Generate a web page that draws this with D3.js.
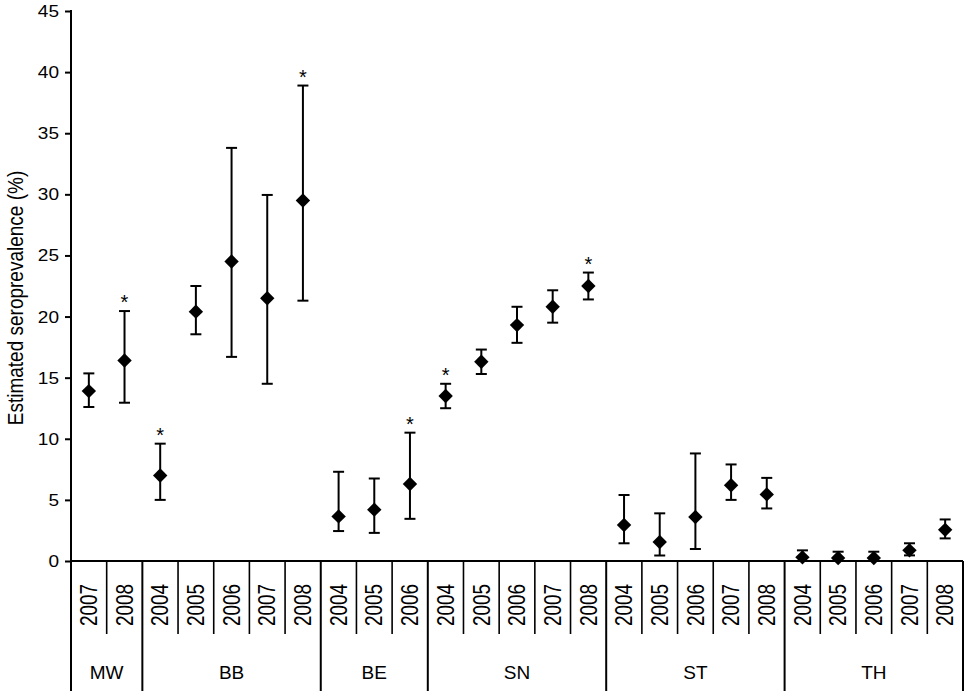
<!DOCTYPE html>
<html>
<head>
<meta charset="utf-8">
<script src="https://cdn.jsdelivr.net/npm/d3@7"></script>
<style>
  body { margin: 0; background: #fff; }
  svg { display: block; }
  text { font-family: "Liberation Sans", Arial, sans-serif; fill: #000; }
</style>
</head>
<body>
<svg id="chart" width="964" height="691"></svg>
<script>
// ---- Data ----
const groups = ["MW", "BB", "BE", "SN", "ST", "TH"];
const groupYears = [
  ["2007", "2008"],
  ["2004", "2005", "2006", "2007", "2008"],
  ["2004", "2005", "2006"],
  ["2004", "2005", "2006", "2007", "2008"],
  ["2004", "2005", "2006", "2007", "2008"],
  ["2004", "2005", "2006", "2007", "2008"]
];
const estimates = [13.9, 16.4, 7.0, 20.4, 24.5, 21.5, 29.5, 3.65, 4.2, 6.3, 13.5, 16.3, 19.3, 20.8, 22.5, 2.95, 1.55, 3.6, 6.2, 5.45, 0.3, 0.25, 0.25, 0.87, 2.55];
const lowerCI   = [12.6, 12.95, 5.0, 18.55, 16.7, 14.5, 21.3, 2.45, 2.3, 3.45, 12.5, 15.3, 17.85, 19.5, 21.4, 1.45, 0.45, 0.98, 5.0, 4.3, 0.0, 0.0, 0.0, 0.46, 1.85];
const upperCI   = [15.35, 20.45, 9.6, 22.5, 33.8, 29.95, 38.9, 7.3, 6.75, 10.5, 14.5, 17.3, 20.8, 22.15, 23.6, 5.4, 3.9, 8.8, 7.9, 6.8, 0.87, 0.76, 0.76, 1.45, 3.4];
const significant = [false, true, true, false, false, false, true, false, false, true, true, false, false, false, true, false, false, false, false, false, false, false, false, false, false];
const yTicks = [0, 5, 10, 15, 20, 25, 30, 35, 40, 45];
const yTitle = "Estimated seroprevalence (%)";

// ---- Build rows ----
const rows = [];
groups.forEach((g, gi) => groupYears[gi].forEach(yr => rows.push({ group: g, year: yr, key: g + "-" + yr })));
rows.forEach((r, i) => { r.est = estimates[i]; r.lo = lowerCI[i]; r.hi = upperCI[i]; r.sig = significant[i]; });

const svg = d3.select("#chart");
const plotLeft = 71, plotRight = 963, plotTop = 11, plotBase = 561, plotBottom = 691;

const x = d3.scaleBand().domain(rows.map(d => d.key)).range([plotLeft, plotRight]).padding(0);
const y = d3.scaleLinear().domain([0, 45]).range([plotBase, plotTop]);

// Y axis
const yAxis = d3.axisLeft(y).tickValues(yTicks).tickSize(6).tickSizeOuter(0).tickPadding(5);
const gy = svg.append("g").attr("transform", `translate(${plotLeft},0)`).call(yAxis);
gy.select(".domain").remove();
gy.selectAll(".tick line").attr("stroke", "#000").attr("stroke-width", 2);
gy.selectAll(".tick text").attr("font-size", 17).attr("font-family", "Liberation Sans, Arial, sans-serif")
  .attr("fill", "#000").attr("transform", "scale(1.12,1)").attr("x", -12 / 1.12);

// Axis lines
svg.append("line").attr("x1", plotLeft).attr("x2", plotLeft).attr("y1", plotTop - 1).attr("y2", plotBottom)
  .attr("stroke", "#000").attr("stroke-width", 2);
svg.append("line").attr("x1", plotLeft).attr("x2", plotRight).attr("y1", plotBase).attr("y2", plotBase)
  .attr("stroke", "#000").attr("stroke-width", 2);

// Separators
let idx = 0;
const groupBounds = [];
groupYears.forEach((ys) => {
  const start = idx;
  idx += ys.length;
  groupBounds.push([start, idx]);
});
const groupEnds = new Set(groupBounds.map(b => b[1]));
for (let i = 1; i <= rows.length; i++) {
  const xp = i === rows.length ? plotRight : x(rows[i].key);
  const isGroup = groupEnds.has(i);
  svg.append("line").attr("x1", xp).attr("x2", xp).attr("y1", plotBase)
    .attr("y2", isGroup ? plotBottom : 634)
    .attr("stroke", "#000").attr("stroke-width", isGroup ? 2 : 1.6);
}

// Year labels
svg.append("g").selectAll("text").data(rows).join("text")
  .attr("transform", d => `translate(${x(d.key) + x.bandwidth() / 2},605) rotate(-90) scale(1,1.22)`)
  .attr("text-anchor", "middle").attr("dominant-baseline", "central")
  .attr("font-size", 19).text(d => d.year);

// Group labels
svg.append("g").selectAll("text").data(groupBounds).join("text")
  .attr("x", (b) => {
    const x0 = x(rows[b[0]].key);
    const x1 = b[1] === rows.length ? plotRight : x(rows[b[1]].key);
    return (x0 + x1) / 2;
  })
  .attr("y", 672).attr("text-anchor", "middle").attr("dominant-baseline", "central")
  .attr("font-size", 19).text((b, i) => groups[i]);

// Y axis title
svg.append("text").attr("transform", `translate(15,298) rotate(-90) scale(1,1.15)`)
  .attr("text-anchor", "middle").attr("dominant-baseline", "central")
  .attr("font-size", 19).text(yTitle);

// Error bars
const cap = 5.5;
const eg = svg.append("g").attr("stroke", "#000").attr("stroke-width", 2);
rows.forEach(d => {
  const cx = x(d.key) + x.bandwidth() / 2;
  eg.append("line").attr("x1", cx).attr("x2", cx).attr("y1", y(d.lo)).attr("y2", y(d.hi));
  eg.append("line").attr("x1", cx - cap).attr("x2", cx + cap).attr("y1", y(d.hi)).attr("y2", y(d.hi));
  if (d.lo > 0.05) eg.append("line").attr("x1", cx - cap).attr("x2", cx + cap).attr("y1", y(d.lo)).attr("y2", y(d.lo));
});

// Diamonds
const rad = 7.2;
svg.append("g").selectAll("path").data(rows).join("path")
  .attr("d", d => {
    const cx = x(d.key) + x.bandwidth() / 2, cy = y(d.est);
    return `M${cx},${cy - rad}L${cx + rad},${cy}L${cx},${cy + rad}L${cx - rad},${cy}Z`;
  })
  .attr("fill", "#000");

// Significance stars
svg.append("g").selectAll("text").data(rows.filter(d => d.sig)).join("text")
  .attr("x", d => x(d.key) + x.bandwidth() / 2)
  .attr("y", d => y(d.hi) - 2)
  .attr("text-anchor", "middle").attr("font-size", 20).text("*");
</script>
</body>
</html>
